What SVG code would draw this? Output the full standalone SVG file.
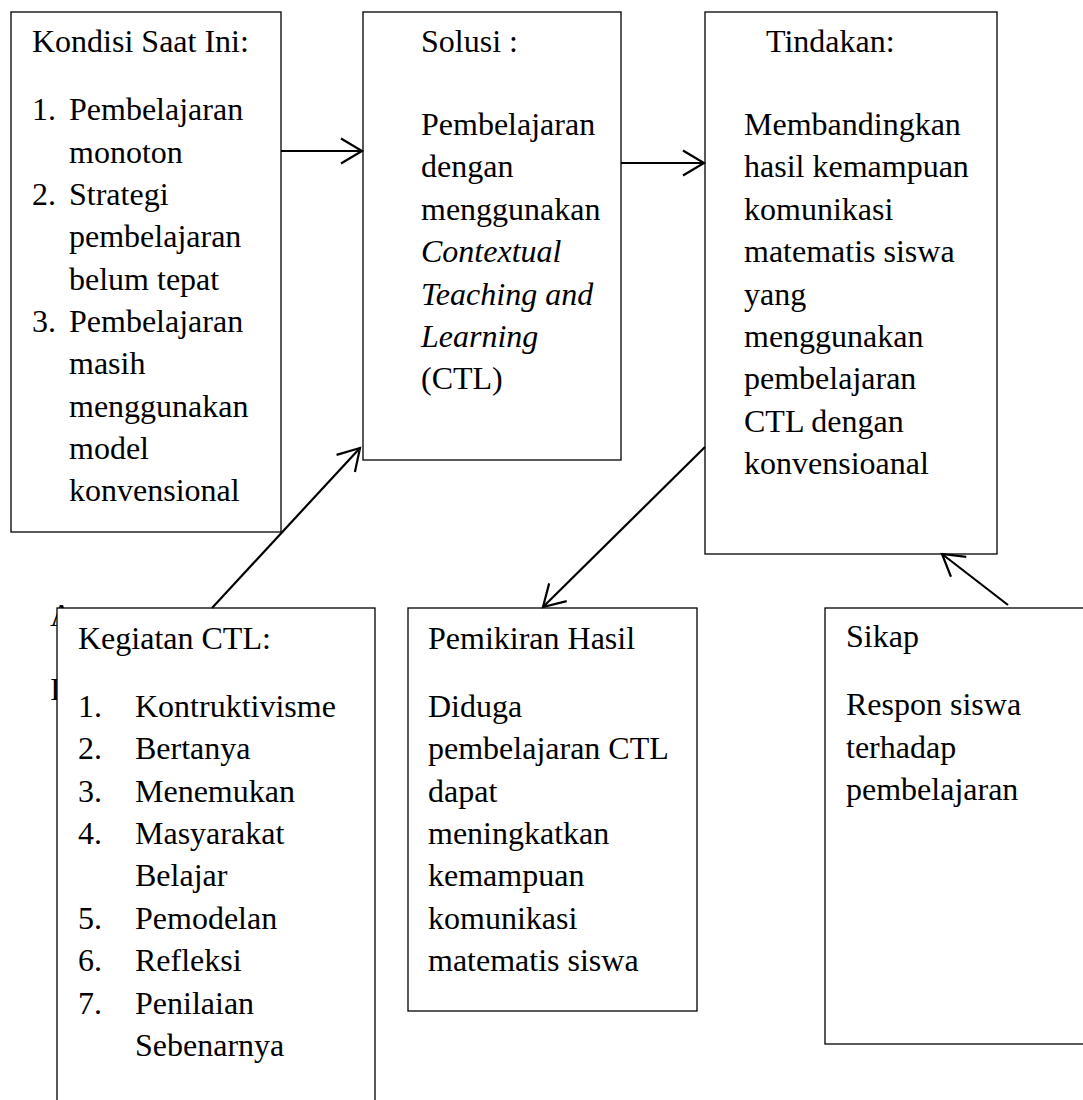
<svg xmlns="http://www.w3.org/2000/svg" width="1083" height="1100" viewBox="0 0 1083 1100">
<style>
  .box { fill: #ffffff; stroke: #000000; stroke-width: 1.3; }
  .t { font-family: "Liberation Serif", "Times New Roman", serif; font-size: 32px; fill: #000000; }
  .i { font-style: italic; }
  .conn { fill: none; stroke: #000000; stroke-width: 2.2; marker-end: url(#arr); }
</style>
<defs>
  <marker id="arr" markerUnits="userSpaceOnUse" markerWidth="40" markerHeight="40" refX="0" refY="0" viewBox="-30 -20 40 40" orient="auto" overflow="visible">
    <path d="M -21 -12.5 L 0 0 L -21 12.5" fill="none" stroke="#000000" stroke-width="2.2" stroke-linejoin="miter"/>
  </marker>
</defs>
<rect width="1083" height="1100" fill="#ffffff"/>

<!-- partially hidden text behind Kegiatan box -->
<g id="hidden-text">
  <text class="t" x="50" y="626">A</text>
  <text class="t" x="50" y="700">I</text>
</g>

<g id="kondisi">
  <rect class="box" x="11" y="12" width="270" height="520"/>
  <text class="t" x="32" y="52">Kondisi Saat Ini:</text>
  <text class="t" x="32" y="120">1.</text>
  <text class="t" x="69" y="120">Pembelajaran</text>
  <text class="t" x="69" y="162.5">monoton</text>
  <text class="t" x="32" y="205">2.</text>
  <text class="t" x="69" y="205">Strategi</text>
  <text class="t" x="69" y="247">pembelajaran</text>
  <text class="t" x="69" y="289.5">belum tepat</text>
  <text class="t" x="32" y="332">3.</text>
  <text class="t" x="69" y="332">Pembelajaran</text>
  <text class="t" x="69" y="374">masih</text>
  <text class="t" x="69" y="416.5">menggunakan</text>
  <text class="t" x="69" y="459">model</text>
  <text class="t" x="69" y="501">konvensional</text>
</g>

<g id="solusi">
  <rect class="box" x="363" y="12" width="258" height="448"/>
  <text class="t" x="421" y="52">Solusi :</text>
  <text class="t" x="421" y="135">Pembelajaran</text>
  <text class="t" x="421" y="177">dengan</text>
  <text class="t" x="421" y="220">menggunakan</text>
  <text class="t i" x="421" y="262">Contextual</text>
  <text class="t i" x="421" y="304.5">Teaching and</text>
  <text class="t i" x="421" y="347">Learning</text>
  <text class="t" x="421" y="389">(CTL)</text>
</g>

<g id="tindakan">
  <rect class="box" x="705" y="12" width="292" height="542"/>
  <text class="t" x="766" y="52">Tindakan:</text>
  <text class="t" x="744" y="135">Membandingkan</text>
  <text class="t" x="744" y="177">hasil kemampuan</text>
  <text class="t" x="744" y="220">komunikasi</text>
  <text class="t" x="744" y="262">matematis siswa</text>
  <text class="t" x="744" y="304.5">yang</text>
  <text class="t" x="744" y="347">menggunakan</text>
  <text class="t" x="744" y="389">pembelajaran</text>
  <text class="t" x="744" y="431.5">CTL dengan</text>
  <text class="t" x="744" y="474">konvensioanal</text>
</g>

<g id="kegiatan">
  <rect class="box" x="57" y="608" width="318" height="500"/>
  <text class="t" x="78" y="649">Kegiatan CTL:</text>
  <text class="t" x="78" y="717">1.</text>
  <text class="t" x="135" y="717">Kontruktivisme</text>
  <text class="t" x="78" y="759">2.</text>
  <text class="t" x="135" y="759">Bertanya</text>
  <text class="t" x="78" y="801.5">3.</text>
  <text class="t" x="135" y="801.5">Menemukan</text>
  <text class="t" x="78" y="844">4.</text>
  <text class="t" x="135" y="844">Masyarakat</text>
  <text class="t" x="135" y="886">Belajar</text>
  <text class="t" x="78" y="929">5.</text>
  <text class="t" x="135" y="929">Pemodelan</text>
  <text class="t" x="78" y="971">6.</text>
  <text class="t" x="135" y="971">Refleksi</text>
  <text class="t" x="78" y="1013.5">7.</text>
  <text class="t" x="135" y="1013.5">Penilaian</text>
  <text class="t" x="135" y="1056">Sebenarnya</text>
</g>

<g id="pemikiran">
  <rect class="box" x="408" y="608" width="289" height="403"/>
  <text class="t" x="428" y="649">Pemikiran Hasil</text>
  <text class="t" x="428" y="717">Diduga</text>
  <text class="t" x="428" y="759">pembelajaran CTL</text>
  <text class="t" x="428" y="801.5">dapat</text>
  <text class="t" x="428" y="844">meningkatkan</text>
  <text class="t" x="428" y="886">kemampuan</text>
  <text class="t" x="428" y="929">komunikasi</text>
  <text class="t" x="428" y="971">matematis siswa</text>
</g>

<g id="sikap">
  <rect class="box" x="825" y="608" width="270" height="436"/>
  <text class="t" x="846" y="647">Sikap</text>
  <text class="t" x="846" y="715">Respon siswa</text>
  <text class="t" x="846" y="757.5">terhadap</text>
  <text class="t" x="846" y="800">pembelajaran</text>
</g>

<g id="connectors">
  <line class="conn" x1="281" y1="151" x2="362" y2="151"/>
  <line class="conn" x1="621" y1="163" x2="704" y2="163"/>
  <line class="conn" x1="212" y1="608" x2="360" y2="448"/>
  <line class="conn" x1="705" y1="447" x2="543" y2="607"/>
  <line class="conn" x1="1008" y1="605" x2="942" y2="554"/>
</g>
</svg>
